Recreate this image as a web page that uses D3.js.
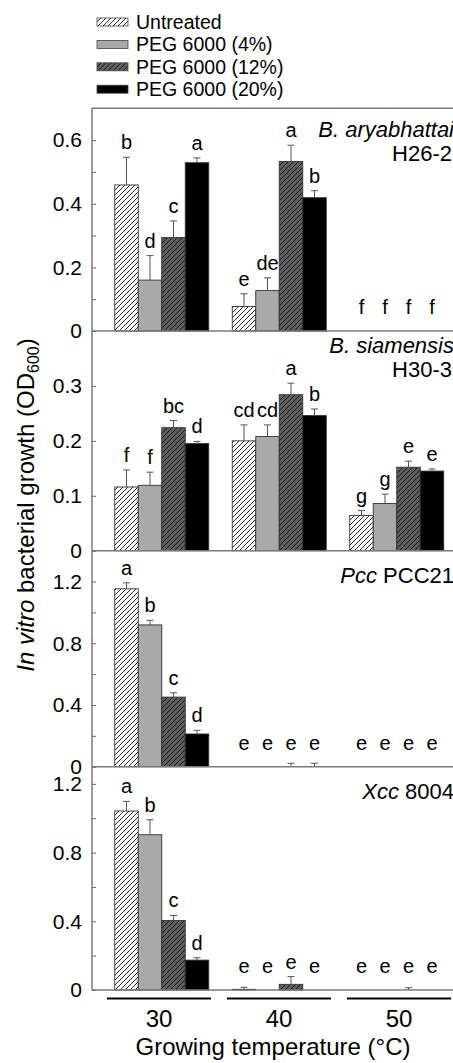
<!DOCTYPE html>
<meta charset="utf-8">
<html>
<head>
<style>
body { margin: 0; background: #fff; }
svg { display: block; font-family: Arial, "Liberation Sans", sans-serif; }
</style>
</head>
<body>
<svg class="chart" width="453" height="1063"></svg>
<script src="https://cdn.jsdelivr.net/npm/d3@7"></script>
<script>

const temps = ["30", "40", "50"]
const treatments = ["Untreated", "PEG 6000 (4%)", "PEG 6000 (12%)", "PEG 6000 (20%)"]

// values in order 30/40/50, each with the 4 treatments
const aryaVals = [0.459, 0.160, 0.294, 0.529, 0.077, 0.127, 0.533, 0.419, 0, 0, 0, 0]
const aryaErr = [0.087, 0.077, 0.052, 0.015, 0.040, 0.040, 0.051, 0.022, 0, 0, 0, 0]
const aryaLetters = ["b", "d", "c", "a", "e", "de", "a", "b", "f", "f", "f", "f"]

const siamVals = [0.116, 0.119, 0.224, 0.195, 0.200, 0.208, 0.284, 0.246, 0.064, 0.086, 0.152, 0.145]
const siamErr = [0.031, 0.024, 0.013, 0.004, 0.029, 0.021, 0.021, 0.012, 0.009, 0.017, 0.011, 0.004]
const siamLetters = ["f", "f", "bc", "d", "cd", "cd", "a", "b", "g", "g", "e", "e"]

const pccVals = [1.153, 0.919, 0.451, 0.212, 0, 0, 0, 0, 0, 0, 0, 0]
const pccErr = [0.039, 0.030, 0.028, 0.024, 0, 0, 0.022, 0.022, 0, 0, 0, 0]
const pccLetters = ["a", "b", "c", "d", "e", "e", "e", "e", "e", "e", "e", "e"]

const xccVals = [1.042, 0.904, 0.405, 0.174, 0.004, 0, 0.033, 0, 0, 0, 0, 0]
const xccErr = [0.056, 0.087, 0.029, 0.014, 0.012, 0, 0.045, 0, 0, 0, 0.013, 0]
const xccLetters = ["a", "b", "c", "d", "e", "e", "e", "e", "e", "e", "e", "e"]

const panelSpecies = ["B. aryabhattai", "B. siamensis", "Pcc", "Xcc"]
const panelStrain = ["H26-2", "H30-3", "PCC21", "8004"]
const panelMax = [0.7, 0.4, 1.4, 1.3]
const panelMajor = [[0, 0.2, 0.4, 0.6], [0, 0.1, 0.2, 0.3], [0, 0.4, 0.8, 1.2], [0, 0.4, 0.8, 1.2]]
const panelMinor = [[0.1, 0.3, 0.5], [], [0.2, 0.6, 1.0], [0.2, 0.6, 1.0]]

const panels = [
  { vals: aryaVals, err: aryaErr, letters: aryaLetters },
  { vals: siamVals, err: siamErr, letters: siamLetters },
  { vals: pccVals, err: pccErr, letters: pccLetters },
  { vals: xccVals, err: xccErr, letters: xccLetters }
]

// layout
const axisX = 92
const panelTop = [108.3, 331, 550.7, 766.7]
const panelBot = [331, 550.7, 766.7, 990]

const svg = d3.select("svg.chart")

// patterns
const defs = svg.append("defs")
function hatch(id, bg) {
  const p = defs.append("pattern")
    .attr("id", id)
    .attr("patternUnits", "userSpaceOnUse")
    .attr("width", 5).attr("height", 5)
  p.append("rect").attr("width", 5).attr("height", 5).attr("fill", bg)
  p.append("path")
    .attr("d", "M-1,1 l2,-2 M0,5 l5,-5 M4,6 l2,-2")
    .attr("stroke", "#111").attr("stroke-width", 0.9)
}
hatch("hatchWhite", "#fff")
hatch("hatchDark", "#5e5e5e")
const fills = ["url(#hatchWhite)", "#a9a9a9", "url(#hatchDark)", "#000"]

const x = d3.scaleBand().domain(temps).range([103, 455.5]).padding(0)
const xs = d3.scaleBand().domain(treatments).range([-47, 47]).padding(0)
// group underlines sit on a slightly wider step than the bars
const xu = d3.scaleBand().domain(temps).range([99, 459]).padding(0)

// legend
const legend = svg.append("g").selectAll("g")
  .data(treatments)
  .enter().append("g")
  .attr("transform", (d, i) => "translate(97," + (22 + i * 22.4) + ")")
legend.append("rect")
  .attr("x", 0).attr("y", -4)
  .attr("width", 31).attr("height", 8)
  .attr("fill", (d, i) => fills[i])
  .attr("stroke", "#444").attr("stroke-width", 0.8)
legend.append("text")
  .attr("x", 39).attr("dy", "0.35em")
  .attr("font-size", 19.5)
  .text(d => d)

panels.forEach((p, pi) => {
  const y = d3.scaleLinear().domain([0, panelMax[pi]]).range([panelBot[pi], panelTop[pi]])
  const g = svg.append("g")

  const rows = p.vals.map((v, i) => ({
    temp: temps[Math.floor(i / 4)],
    trt: treatments[i % 4],
    k: i % 4,
    v: v,
    e: p.err[i],
    letter: p.letters[i]
  }))

  // bars
  g.selectAll("rect.bar")
    .data(rows.filter(d => d.v > 0))
    .enter().append("rect")
    .attr("class", "bar")
    .attr("x", d => x(d.temp) + x.bandwidth() / 2 + xs(d.trt))
    .attr("width", xs.bandwidth())
    .attr("y", d => y(d.v))
    .attr("height", d => y(0) - y(d.v))
    .attr("fill", d => fills[d.k])
    .attr("stroke", "#333").attr("stroke-width", 0.9)

  // error bars (upper only)
  const eb = g.selectAll("g.err")
    .data(rows.filter(d => d.e > 0))
    .enter().append("g")
    .attr("transform", d => "translate(" + (x(d.temp) + x.bandwidth() / 2 + xs(d.trt) + xs.bandwidth() / 2) + ",0)")
  eb.append("line")
    .attr("y1", d => y(d.v)).attr("y2", d => y(d.v + d.e))
    .attr("stroke", "#555").attr("stroke-width", 1)
  eb.append("line")
    .attr("x1", -3.5).attr("x2", 3.5)
    .attr("y1", d => y(d.v + d.e)).attr("y2", d => y(d.v + d.e))
    .attr("stroke", "#555").attr("stroke-width", 1)

  // significance letters
  g.selectAll("text.letter")
    .data(rows)
    .enter().append("text")
    .attr("class", "letter")
    .attr("x", d => x(d.temp) + x.bandwidth() / 2 + xs(d.trt) + xs.bandwidth() / 2)
    .attr("y", d => Math.min(y(d.v + d.e) - 8, y(0) - 17))
    .attr("text-anchor", "middle")
    .attr("font-size", 20)
    .text(d => d.letter)

  // zero line / panel boundary
  g.append("line")
    .attr("x1", axisX).attr("x2", 453)
    .attr("y1", y(0)).attr("y2", y(0))
    .attr("stroke", "#7a7a7a").attr("stroke-width", 1.5)

  // y axis ticks
  const ax = g.append("g").attr("transform", "translate(" + axisX + ",0)")
  ax.call(d3.axisLeft(y).tickValues(panelMajor[pi]).tickSize(-4).tickPadding(10)
    .tickFormat(d => d === 0 ? "0" : d3.format(".1f")(d)))
  ax.call(a => a.select(".domain").remove())
  ax.selectAll(".tick line").attr("stroke", "#666")
  ax.selectAll(".tick text").attr("font-size", 21).attr("font-family", null).attr("fill", "#000")
  const minor = g.append("g").attr("transform", "translate(" + axisX + ",0)")
  minor.call(d3.axisLeft(y).tickValues(panelMinor[pi]).tickSize(-4).tickFormat(""))
  minor.call(a => a.select(".domain").remove())
  minor.selectAll(".tick line").attr("stroke", "#666")

  // panel label
  const lab1 = [29, 22, 32, 32]
  const t1 = g.append("text")
    .attr("x", 454).attr("y", panelTop[pi] + lab1[pi])
    .attr("text-anchor", "end").attr("font-size", 22)
  if (pi < 2) {
    t1.append("tspan").attr("font-style", "italic").text(panelSpecies[pi])
    g.append("text")
      .attr("x", 452).attr("y", panelTop[pi] + lab1[pi] + 24)
      .attr("text-anchor", "end").attr("font-size", 22)
      .text(panelStrain[pi])
  } else {
    t1.append("tspan").attr("font-style", "italic").text(panelSpecies[pi])
    t1.append("tspan").text(" " + panelStrain[pi])
  }
})

// frame top + left axis
svg.append("line")
  .attr("x1", axisX).attr("x2", 453)
  .attr("y1", panelTop[0]).attr("y2", panelTop[0])
  .attr("stroke", "#7a7a7a").attr("stroke-width", 1.5)
svg.append("line")
  .attr("x1", axisX).attr("x2", axisX)
  .attr("y1", panelTop[0]).attr("y2", panelBot[3])
  .attr("stroke", "#7a7a7a").attr("stroke-width", 1.5)

// x groups: underline + label
const xg = svg.append("g").selectAll("g")
  .data(temps)
  .enter().append("g")
xg.append("line")
  .attr("x1", d => xu(d) + 8).attr("x2", d => xu(d) + 112)
  .attr("y1", 998.5).attr("y2", 998.5)
  .attr("stroke", "#000").attr("stroke-width", 2.2)
xg.append("text")
  .attr("x", d => xu(d) + xu.bandwidth() / 2)
  .attr("y", 1026.5)
  .attr("text-anchor", "middle")
  .attr("font-size", 24)
  .text(d => d)

svg.append("text")
  .attr("x", 273).attr("y", 1055)
  .attr("text-anchor", "middle")
  .attr("font-size", 24)
  .text("Growing temperature (°C)")

// y title
const yt = svg.append("text")
  .attr("transform", "translate(33.5,505) rotate(-90)")
  .attr("text-anchor", "middle")
  .attr("font-size", 24)
yt.append("tspan").attr("font-style", "italic").text("In vitro")
yt.append("tspan").text(" bacterial growth (OD")
yt.append("tspan").attr("font-size", 16).attr("dy", 5).text("600")
yt.append("tspan").attr("dy", -5).text(")")

</script>
</body>
</html>
